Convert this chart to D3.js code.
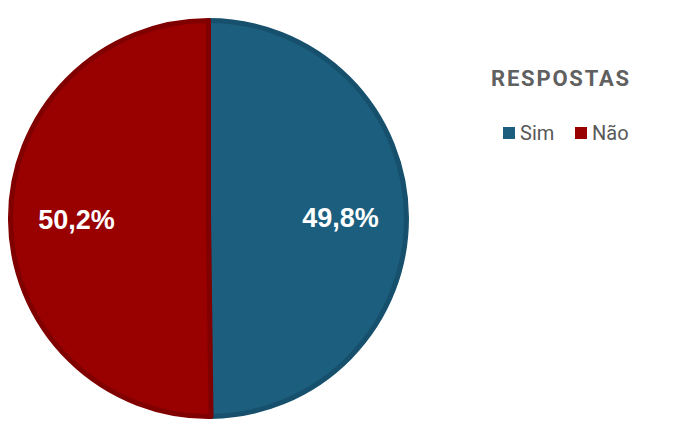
<!DOCTYPE html>
<html><head><meta charset="utf-8">
<script src="https://cdn.jsdelivr.net/npm/d3@7"></script>
<style>body{margin:0;background:#fff}svg{display:block}</style>
</head><body>
<script>
const categories = ["Sim", "Não"];
const values = [49.8, 50.2];
const labels = ["49,8%", "50,2%"];
const colors = ["#1b5e7e", "#990000"];
const borders = ["#16506c", "#800000"];
const legendTitle = "RESPOSTAS";

const W = 680, H = 434;
const svg = d3.select("body").append("svg").attr("width", W).attr("height", H);
const cx = 208.5, cy = 218.5, r = 198;

const pie = d3.pie().sort(null).value(d => d)(values);
const arc = d3.arc().innerRadius(0).outerRadius(r);
const g = svg.append("g").attr("transform", `translate(${cx},${cy})`);
g.selectAll("path").data(pie).join("path")
  .attr("d", arc)
  .attr("fill", (d, i) => colors[i])
  .attr("stroke", (d, i) => borders[i])
  .attr("stroke-width", 5)
  .attr("stroke-linejoin", "round");

const labelArc = d3.arc().innerRadius(132).outerRadius(132);
g.selectAll("text.lbl").data(pie).join("text")
  .attr("class", "lbl")
  .attr("transform", d => `translate(${labelArc.centroid(d)})`)
  .attr("text-anchor", "middle")
  .attr("dy", "0.36em")
  .attr("fill", "#fff")
  .attr("font-family", "'Liberation Sans', Arial, sans-serif")
  .attr("font-weight", "bold")
  .attr("font-size", 27)
  .text((d, i) => labels[i]);

svg.append("text")
  .attr("x", 491).attr("y", 86)
  .attr("font-family", "Roboto, Arial, sans-serif")
  .attr("font-weight", "bold")
  .attr("font-size", 22)
  .attr("letter-spacing", 1.8)
  .attr("fill", "#606060")
  .text(legendTitle);

const legX = [503, 575];
const leg = svg.selectAll("g.leg").data(categories).join("g")
  .attr("class", "leg")
  .attr("transform", (d, i) => `translate(${legX[i]},127)`);
leg.append("rect").attr("width", 12).attr("height", 12)
  .attr("fill", (d, i) => colors[i]);
leg.append("text").attr("x", 17).attr("y", 13)
  .attr("font-family", "Roboto, Arial, sans-serif")
  .attr("font-size", 20)
  .attr("fill", "#595959")
  .text(d => d);
</script>
</body></html>
